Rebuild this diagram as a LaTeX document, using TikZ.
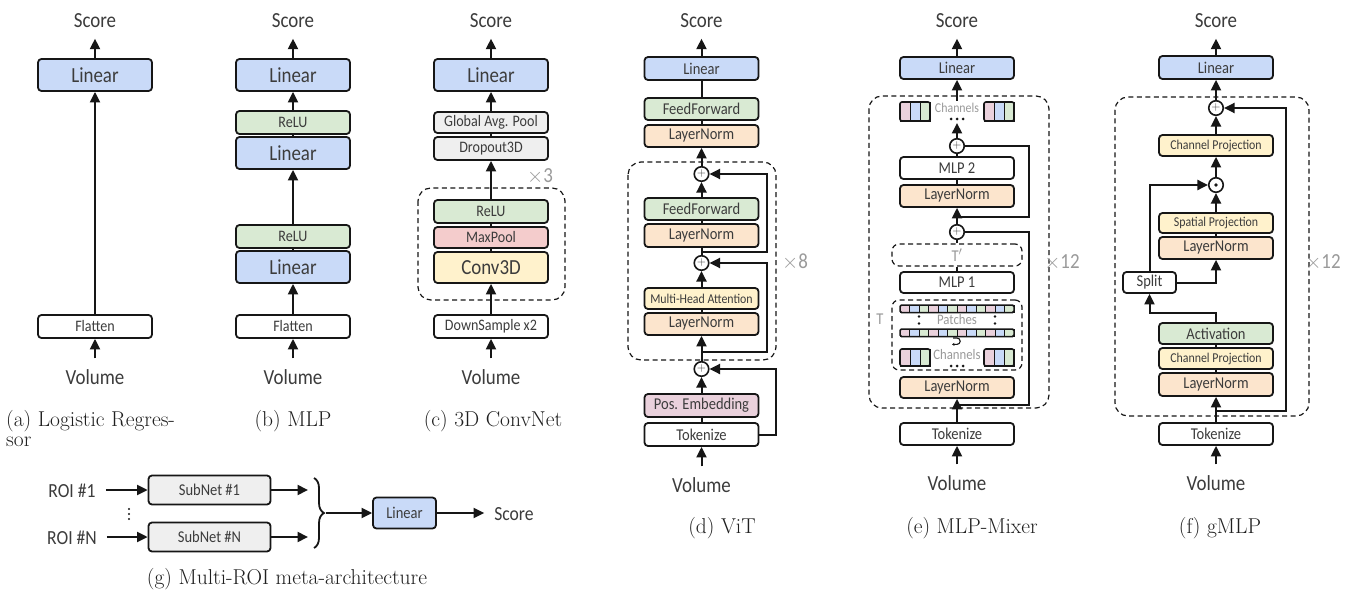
\documentclass[tikz,border=0pt]{standalone}
\usepackage{fontspec}
\usetikzlibrary{arrows.meta,decorations.pathreplacing}
\newfontfamily\dfont{Carlito}[FakeStretch=0.88]
\definecolor{cblue}{HTML}{C9DAF8}
\definecolor{cgreen}{HTML}{D9EAD3}
\definecolor{corange}{HTML}{FCE5CD}
\definecolor{cyellow}{HTML}{FFF2CC}
\definecolor{cred}{HTML}{F4CCCC}
\definecolor{cpink}{HTML}{EAD1DC}
\definecolor{cgray}{HTML}{EFEFEF}
\definecolor{txt}{HTML}{3C3C3C}
\definecolor{ltxt}{HTML}{9A9A9A}
\definecolor{edge}{HTML}{161616}
\newcommand\fsBig{\dfont\fontsize{21.5}{23}\selectfont}
\newcommand\fsRoi{\dfont\fontsize{20}{22}\selectfont}
\newcommand\fsMid{\dfont\fontsize{16.5}{18}\selectfont}
\newcommand\fsSm{\dfont\fontsize{16}{18}\selectfont}
\newcommand\fsXs{\dfont\fontsize{13.5}{15}\selectfont}
\newcommand\fsTiny{\dfont\fontsize{14.5}{16}\selectfont}
\newcommand\fsCap{\fontsize{21.5}{23}\selectfont}
\newcommand\chblk[3]{%
  \filldraw[fill=cpink, draw=edge, line width=0.8pt] (#1,#2) rectangle ++(10,#3);
  \filldraw[fill=cblue, draw=edge, line width=0.8pt] ({#1+10},#2) rectangle ++(10,#3);
  \filldraw[fill=cgreen, draw=edge, line width=0.8pt] ({#1+20},#2) rectangle ++(10,#3);
  \draw[edge, line width=1.6pt, rounded corners=2pt] (#1,#2) rectangle ++(30,#3);}
\newcommand\patchrow[2]{%
  \foreach \i [evaluate=\i as \m using {int(mod(\i,3))}] in {0,...,11}{%
    \ifcase\m \def\mycol{cpink}\or \def\mycol{cblue}\or \def\mycol{cgreen}\fi
    \filldraw[fill=\mycol, draw=edge, line width=0.7pt] ({#1+\i*9.5},#2) rectangle ++(9.5,7.5);}
  \draw[edge, line width=1.5pt, rounded corners=1.5pt] (#1,#2) rectangle ++(114,7.5);}
\tikzset{
  box/.style={draw=edge, line width=1.8pt, rounded corners=3.5pt, inner sep=0pt, text=txt, minimum width=114pt},
  lbl/.style={text=txt, inner xsep=10pt, inner ysep=11pt, text height=15pt, text depth=0pt},
  arr/.style={draw=edge, line width=2pt, -{Triangle[length=10.5pt,width=10pt]}},
  ln/.style={draw=edge, line width=2pt},
  dbox/.style={draw=edge, line width=1.2pt, dash pattern=on 5pt off 3.5pt, rounded corners=13pt},
  sbox/.style={draw=edge, line width=1.2pt, dash pattern=on 5pt off 3.5pt, rounded corners=7pt, inner sep=0pt},
  pl/.style={circle, draw=edge, line width=1.6pt, fill=white, minimum size=14.5pt, inner sep=0pt, text=txt, font=\fontsize{12}{12}\selectfont},
  capt/.style={inner sep=0pt, font=\fsCap, text=black!88},
  gl/.style={text=ltxt, inner sep=0pt},
}
\begin{document}
\begin{tikzpicture}[x=1pt,y=-1pt]
\useasboundingbox (0,0) rectangle (1353,591);
\fill[white] (0,0) rectangle (1353,591);

% ---------------- (a) Logistic Regressor
\node[lbl,font=\fsBig] (aS) at (95,20) {Score};
\node[box,fill=cblue,minimum height=32pt,font=\fsBig] (aL) at (95,75) {Linear};
\node[box,fill=white,minimum height=23pt,font=\fsSm] (aF) at (95,326.5) {Flatten};
\node[lbl,font=\fsBig] (aV) at (95,377) {Volume};
\draw[arr] (aL) -- (aS);
\draw[arr] (aF) -- (aL);
\draw[arr] (aV) -- (aF);
\node[capt,anchor=west] (aC1) at (6,421) {(a) Logistic Regres-};
\node[capt,anchor=west] (aC2) at (6,442) {sor};

% ---------------- (b) MLP
\node[lbl,font=\fsBig] (bS) at (293,20) {Score};
\node[box,fill=cblue,minimum height=32pt,font=\fsBig] (bL1) at (293,75) {Linear};
\node[box,fill=cgreen,minimum height=23pt,font=\fsSm] (bR1) at (293,122.5) {ReLU};
\node[box,fill=cblue,minimum height=32pt,font=\fsBig] (bL2) at (293,153) {Linear};
\node[box,fill=cgreen,minimum height=23pt,font=\fsSm] (bR2) at (293,236.5) {ReLU};
\node[box,fill=cblue,minimum height=32pt,font=\fsBig] (bL3) at (293,267) {Linear};
\node[box,fill=white,minimum height=23pt,font=\fsSm] (bF) at (293,326.5) {Flatten};
\node[lbl,font=\fsBig] (bV) at (293,377) {Volume};
\draw[arr] (bL1) -- (bS);
\draw[arr] (bR1) -- (bL1);
\draw[ln] (bL2) -- (bR1);
\draw[arr] (bR2) -- (bL2);
\draw[ln] (bL3) -- (bR2);
\draw[arr] (bF) -- (bL3);
\draw[arr] (bV) -- (bF);
\node[capt] (bC) at (293,421) {(b) MLP};

% ---------------- (c) 3D ConvNet
\draw[dbox] (418,188) rectangle (565,300);
\node[lbl,font=\fsBig] (cS) at (491,20) {Score};
\node[box,fill=cblue,minimum height=32pt,font=\fsBig] (cL) at (491,75) {Linear};
\node[box,fill=cgray,minimum height=21pt,font=\fsSm] (cG) at (491,122.5) {Global Avg. Pool};
\node[box,fill=cgray,minimum height=23pt,font=\fsSm] (cD) at (491,148.5) {Dropout3D};
\node[box,fill=cgreen,minimum height=23pt,font=\fsSm] (cR) at (491,211.5) {ReLU};
\node[box,fill=cred,minimum height=21pt,font=\fsSm] (cM) at (491,237.5) {MaxPool};
\node[box,fill=cyellow,minimum height=31pt,font=\fsBig] (cC) at (491,267.5) {Conv3D};
\node[box,fill=white,minimum height=23pt,font=\fsSm] (cDS) at (491,326.5) {DownSample x2};
\node[lbl,font=\fsBig] (cV) at (491,377) {Volume};
\node[gl,font=\fsBig] (cX) at (540,176) {$\times$3};
\draw[arr] (cL) -- (cS);
\draw[arr] (cG) -- (cL);
\draw[ln] (cD) -- (cG);
\draw[arr] (cR) -- (cD);
\draw[ln] (cM) -- (cR);
\draw[ln] (cC) -- (cM);
\draw[arr] (cDS) -- (cC);
\draw[arr] (cV) -- (cDS);
\node[capt] (cCap) at (493,421) {(c) 3D ConvNet};

% ---------------- (g) Multi-ROI
\node[lbl,font=\fsRoi] (gR1) at (72,490) {ROI \#1};
\node[lbl,font=\fsRoi] (gRN) at (72,537) {ROI \#N};
\node[box,fill=cgray,minimum width=122pt,minimum height=29pt,font=\fsMid] (gS1) at (209.5,490) {SubNet \#1};
\node[box,fill=cgray,minimum width=122pt,minimum height=29pt,font=\fsMid] (gSN) at (209.5,537) {SubNet \#N};
\foreach \yy in {509,514,519} \fill[edge] (129,\yy) circle (1.2pt);
\coordinate (gE1) at (308,490);
\coordinate (gEN) at (308,537);
\draw[arr] (gR1) -- (gS1);
\draw[arr] (gRN) -- (gSN);
\draw[arr] (gS1) -- (gE1);
\draw[arr] (gSN) -- (gEN);
\draw[edge,line width=1.8pt,decorate,decoration={brace,amplitude=10pt}] (314,478) -- (314,548);
\coordinate (gBr) at (326,513);
\node[box,fill=cblue,minimum width=63pt,minimum height=31pt,font=\fsMid] (gL) at (404.5,513) {Linear};
\node[lbl,font=\fsRoi] (gSc) at (514,513) {Score};
\draw[arr] (gBr) -- (gL);
\draw[arr] (gL) -- (gSc);
\node[capt] (gC) at (287,579) {(g) Multi-ROI meta-architecture};

% ---------------- (d) ViT
\draw[dbox] (628,162) rectangle (776,360);
\node[lbl,font=\fsBig] (dS) at (701.5,20) {Score};
\node[box,fill=cblue,minimum height=23pt,font=\fsMid] (dL) at (701.5,68.5) {Linear};
\node[box,fill=cgreen,minimum height=22pt,font=\fsMid] (dFF2) at (701.5,109) {FeedForward};
\node[box,fill=corange,minimum height=22pt,font=\fsMid] (dLN2) at (701.5,136) {LayerNorm};
\node[pl] (dP1) at (701.5,174) {+};
\node[box,fill=cgreen,minimum height=22pt,font=\fsMid] (dFF) at (701.5,209) {FeedForward};
\node[box,fill=corange,minimum height=23pt,font=\fsMid] (dLN) at (701.5,235.5) {LayerNorm};
\node[pl] (dP2) at (701.5,263) {+};
\node[box,fill=cyellow,minimum height=21pt,font=\fsXs] (dMHA) at (701.5,298.5) {Multi-Head Attention};
\node[box,fill=corange,minimum height=22pt,font=\fsMid] (dLN1) at (701.5,324) {LayerNorm};
\node[pl] (dP3) at (701.5,369) {+};
\node[box,fill=cpink,minimum height=23pt,font=\fsMid] (dPE) at (701.5,405.5) {Pos. Embedding};
\node[box,fill=white,minimum height=23pt,font=\fsMid] (dT) at (701.5,434.5) {Tokenize};
\node[lbl,font=\fsBig] (dV) at (701.5,485) {Volume};
\node[gl,font=\fsBig] (dX) at (795,262) {$\times$8};
\coordinate (dB1) at (701.5,252);
\coordinate (dB2) at (701.5,352);
\draw[arr] (dL) -- (dS);
\draw[ln] (dFF2) -- (dL);
\draw[ln] (dLN2) -- (dFF2);
\draw[arr] (dP1) -- (dLN2);
\draw[arr] (dFF) -- (dP1);
\draw[ln] (dLN) -- (dFF);
\draw[ln] (dP2) -- (dLN);
\draw[arr] (dMHA) -- (dP2);
\draw[ln] (dLN1) -- (dMHA);
\draw[arr] (dP3) -- (dLN1);
\draw[arr] (dPE) -- (dP3);
\draw[ln] (dT) -- (dPE);
\draw[arr] (dV) -- (dT);
\draw[arr] (dB1) -- (767,252) -- (767,174) -- (dP1);
\draw[arr] (dB2) -- (767,352) -- (767,263) -- (dP2);
\draw[arr] (dT.east) -- (776,434.5) -- (776,369) -- (dP3);
\node[capt] (dC) at (722,528) {(d) ViT};

% ---------------- (e) MLP-Mixer
\draw[dbox] (869,96) rectangle (1049,408);
\node[lbl,font=\fsBig] (eS) at (957,20) {Score};
\node[box,fill=cblue,minimum height=22pt,font=\fsMid] (eL) at (957,68) {Linear};
\chblk{900}{102}{19}
\chblk{984}{102}{19}
\node[gl,font=\fsXs] (eCh1) at (957,108) {Channels};
\foreach \xx in {951,957,963} \fill[edge] (\xx,119) circle (1.5pt);
\coordinate (eD1) at (957,123);
\node[pl] (ePA) at (957,146) {+};
\node[box,fill=white,minimum height=22pt,font=\fsMid] (eM2) at (957,168) {MLP 2};
\node[box,fill=corange,minimum height=22pt,font=\fsMid] (eLN2) at (957,196) {LayerNorm};
\node[pl] (ePB) at (957,232) {+};
\node[sbox,minimum width=130pt,minimum height=22pt,text=ltxt,font=\fsMid] (eTp) at (957,255) {T$'$};
\node[box,fill=white,minimum height=21pt,font=\fsMid] (eM1) at (957,282.5) {MLP 1};
\node[sbox,minimum width=130pt,minimum height=70pt] (eT) at (957,335) {};
\node[gl,font=\fsMid] (eTl) at (880,319) {T};
\patchrow{900}{305}
\patchrow{900}{329}
\foreach \xx in {919,995} {\fill[edge] (\xx,316.5) circle (1.4pt); \fill[edge] (\xx,323.5) circle (1.4pt);}
\node[gl,font=\fsTiny] (ePat) at (957,320) {Patches};
\draw[edge,line width=1.1pt,-{Stealth[length=2.5pt,width=3pt]}] (953,338) -- (957,338) arc[start angle=-90,end angle=90,radius=3.2] -- (952,344.4);
\chblk{900}{349}{17}
\chblk{984}{349}{17}
\node[gl,font=\fsTiny] (eCh2) at (957,355) {Channels};
\foreach \xx in {951,957,963} \fill[edge] (\xx,366) circle (1.5pt);
\node[box,fill=corange,minimum height=21pt,font=\fsMid] (eLN1) at (957,387.5) {LayerNorm};
\node[box,fill=white,minimum height=22pt,font=\fsMid] (eTok) at (957,434) {Tokenize};
\node[lbl,font=\fsBig] (eV) at (957,483) {Volume};
\node[gl,font=\fsBig] (eX) at (1062,262) {$\times$12};
\coordinate (eB1) at (957,217);
\coordinate (eB2) at (957,405);
\coordinate (eCt) at (957,101);
\draw[arr] (eCt) -- (eL);
\draw[arr] (eL) -- (eS);
\draw[arr] (ePA) -- (eD1);
\draw[ln] (eM2) -- (ePA);
\draw[ln] (eLN2) -- (eM2);
\draw[arr] (ePB) -- (eLN2);
\draw[ln] (eTp) -- (ePB);
\draw[ln] (eM1) -- (eTp);
\draw[arr] (eTok) -- (eLN1);
\draw[arr] (eV) -- (eTok);
\draw[ln] (eB1) -- (1029,217) -- (1029,146) -- (ePA);
\draw[ln] (eB2) -- (1029,405) -- (1029,232) -- (ePB);
\node[capt] (eC) at (972,528) {(e) MLP-Mixer};

% ---------------- (f) gMLP
\draw[dbox] (1115,97) rectangle (1309,416);
\node[lbl,font=\fsBig] (fS) at (1216,20) {Score};
\node[box,fill=cblue,minimum height=23pt,font=\fsMid] (fL) at (1216,67.5) {Linear};
\node[pl] (fPA) at (1216,108) {+};
\node[box,fill=cyellow,minimum height=21pt,font=\fsXs] (fCP2) at (1216,145.5) {Channel Projection};
\node[pl] (fPD) at (1216,185) {};
\fill[edge] (fPD) circle (1.9pt);
\node[box,fill=cyellow,minimum height=20pt,font=\fsXs] (fSP) at (1216,223) {Spatial Projection};
\node[box,fill=corange,minimum height=22pt,font=\fsMid] (fLN2) at (1216,248) {LayerNorm};
\node[box,fill=white,minimum width=53pt,minimum height=21pt,font=\fsMid] (fSp) at (1149.5,282.5) {Split};
\node[box,fill=cgreen,minimum height=21pt,font=\fsMid] (fAct) at (1216,333.5) {Activation};
\node[box,fill=cyellow,minimum height=21pt,font=\fsXs] (fCP1) at (1216,358.5) {Channel Projection};
\node[box,fill=corange,minimum height=23pt,font=\fsMid] (fLN1) at (1216,384.5) {LayerNorm};
\node[box,fill=white,minimum height=22pt,font=\fsMid] (fTok) at (1216,434) {Tokenize};
\node[lbl,font=\fsBig] (fV) at (1216,483) {Volume};
\node[gl,font=\fsBig] (fX) at (1323,262) {$\times$12};
\coordinate (fB) at (1216,411);
\draw[arr] (fL) -- (fS);
\draw[arr] (fPA) -- (fL);
\draw[arr] (fCP2) -- (fPA);
\draw[arr] (fPD) -- (fCP2);
\draw[arr] (fSP) -- (fPD);
\draw[ln] (fLN2) -- (fSP);
\draw[arr] (fSp.north) -- (1149.5,185) -- (fPD);
\draw[arr] (fSp.east) -- (1216,282.5) -- (fLN2);
\draw[arr] (fAct.north) -- (1216,313) -- (1149.5,313) -- (fSp);
\draw[ln] (fCP1) -- (fAct);
\draw[ln] (fLN1) -- (fCP1);
\draw[arr] (fTok) -- (fLN1);
\draw[arr] (fV) -- (fTok);
\draw[arr] (fB) -- (1286,411) -- (1286,108) -- (fPA);
\node[capt] (fC) at (1220,528) {(f) gMLP};
\end{tikzpicture}
\end{document}
